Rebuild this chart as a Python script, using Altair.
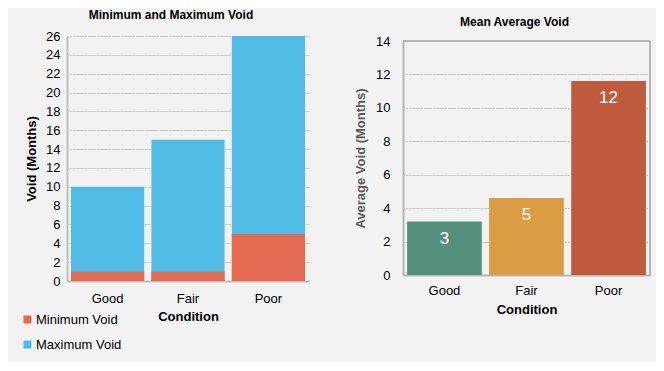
import altair as alt
import pandas as pd

conditions = ["Good", "Fair", "Poor"]
min_void = [1, 1, 5]
max_void = [10, 15, 26]
avg_void = [3.2, 4.6, 11.6]
avg_labels = ["3", "5", "12"]
series_names = ["Minimum Void", "Maximum Void"]
series_colors = ["#e56a52", "#50bbe4"]
avg_colors = ["#54907c", "#dc9c44", "#c05a3e"]
left_ticks = list(range(0, 27, 2))
right_ticks = list(range(0, 15, 2))
right_max = 14

df_mm = pd.DataFrame({
    "Condition": conditions * 2,
    "Series": ["Maximum Void"] * 3 + ["Minimum Void"] * 3,
    "Value": max_void + min_void,
})
df_avg = pd.DataFrame({"Condition": conditions, "Value": avg_void, "Label": avg_labels})
df_frame = pd.DataFrame({"edge": ["frame"]})

FONT = "Liberation Sans"
FRAME = "#b5b5b5"
RW = 247      # right panel plot width
RH = 239      # right panel group height
RTOP = 5      # gap above right plot area

left = alt.Chart(df_mm).mark_bar().encode(
    x=alt.X("Condition:N", sort=conditions, title="Condition",
            scale=alt.Scale(paddingInner=0.09, paddingOuter=0.05),
            axis=alt.Axis(labelAngle=0, ticks=False, domainColor="#bfbfbf", domainWidth=2,
                          labelFontSize=13, titleFontSize=13, labelColor="black",
                          titleColor="black", labelPadding=11, titlePadding=5, grid=False)),
    y=alt.Y("Value:Q", stack=None, scale=alt.Scale(domain=[0, 26], nice=False),
            title="Void (Months)",
            axis=alt.Axis(values=left_ticks, gridDash=[1, 2], gridColor="#9a9a9a",
                          domainColor="#bfbfbf", domainWidth=2, ticks=False,
                          labelFontSize=13, titleFontSize=13, labelColor="black",
                          titleColor="black", labelPadding=7, titlePadding=7,
                          labelOverlap=False)),
    color=alt.Color("Series:N", scale=alt.Scale(domain=series_names, range=series_colors),
                    legend=alt.Legend(title=None, orient="none", legendX=-46, legendY=277,
                                      symbolType="square", symbolSize=64, labelFontSize=13,
                                      labelColor="black", rowPadding=11, labelOffset=2)),
    order=alt.Order("Value:Q", sort="descending"),
).properties(
    width=242, height=245,
    title=alt.TitleParams("Minimum and Maximum Void", fontSize=12, fontWeight="bold",
                          offset=8, dx=-17),
    view=alt.ViewBackground(strokeWidth=0),
)

y_scale_r = alt.Scale(domain=[0, right_max], nice=False, range=[RH, RTOP])
y_axis_r = alt.Axis(values=right_ticks, gridDash=[1, 2], gridColor="#9a9a9a",
                    domainColor=FRAME, domainWidth=2, ticks=False,
                    labelFontSize=13, titleFontSize=13, labelColor="black",
                    titleColor="#5a5a5a", labelPadding=13, titlePadding=8,
                    labelOverlap=False, title="Average Void (Months)")

base_r = alt.Chart(df_avg).encode(
    x=alt.X("Condition:N", sort=conditions, title="Condition",
            scale=alt.Scale(paddingInner=0.09, paddingOuter=0.05),
            axis=alt.Axis(labelAngle=0, ticks=False, domainColor=FRAME, domainWidth=2,
                          labelFontSize=13, titleFontSize=13, labelColor="black",
                          titleColor="black", labelPadding=9, titlePadding=6, grid=False)),
    y=alt.Y("Value:Q", scale=y_scale_r, axis=y_axis_r),
)
bars_r = base_r.mark_bar().encode(
    color=alt.Color("Condition:N", scale=alt.Scale(domain=conditions, range=avg_colors),
                    legend=None)
)
text_r = base_r.mark_text(baseline="top", dy=9, color="white", fontSize=17).encode(
    text="Label:N"
)
frame_top = alt.Chart(df_frame).mark_rule(color=FRAME, strokeWidth=2).encode(
    x=alt.value(0), x2=alt.value(RW),
    y=alt.YDatum(right_max, type="quantitative", scale=y_scale_r, axis=y_axis_r),
)
frame_right = alt.Chart(df_frame).mark_rule(color=FRAME, strokeWidth=2).encode(
    x=alt.value(RW),
    y=alt.YDatum(0, type="quantitative", scale=y_scale_r, axis=y_axis_r),
    y2=alt.datum(right_max),
)
right = alt.layer(bars_r, text_r, frame_top, frame_right).properties(
    width=RW, height=RH,
    title=alt.TitleParams("Mean Average Void", fontSize=12, fontWeight="bold",
                          offset=6, dx=-12),
    view=alt.ViewBackground(strokeWidth=0),
)

chart = alt.hconcat(left, right, spacing=45).resolve_scale(color="independent").properties(
    background="#f2f2f2",
    padding={"left": 13, "top": 1, "right": 5, "bottom": 10},
).configure(font=FONT).configure_title(font=FONT, color="black")

chart.save("out.html", embed_options={"renderer": "svg", "actions": False})
